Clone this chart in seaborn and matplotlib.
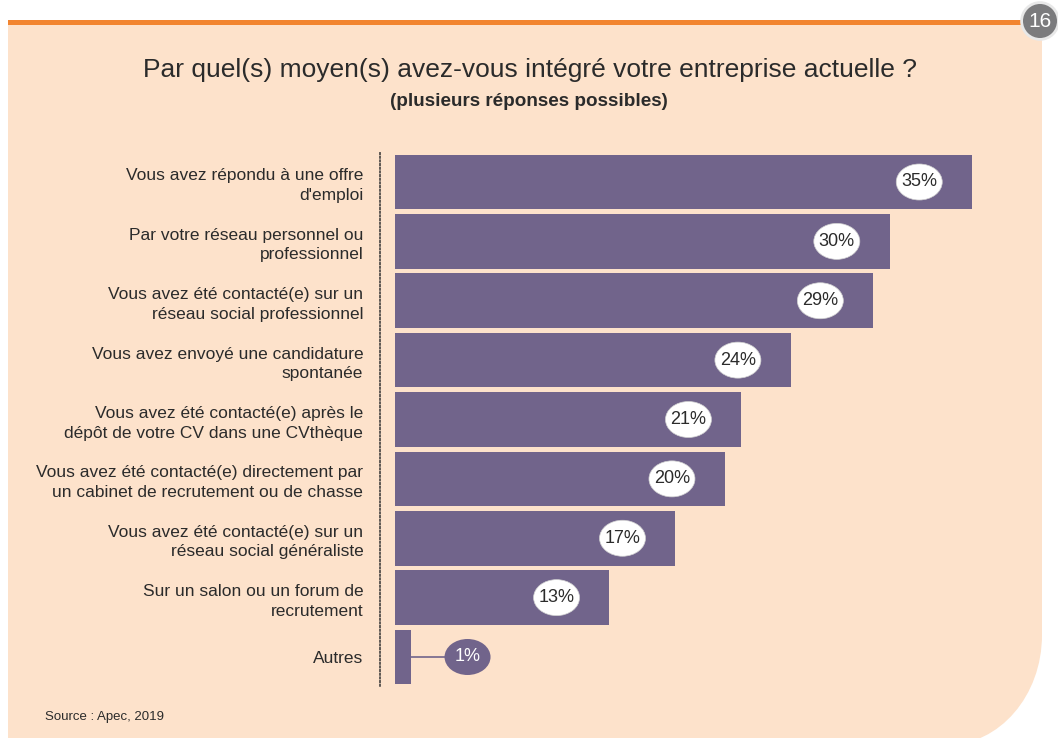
import numpy as np
import pandas as pd
import matplotlib
matplotlib.use("Agg")
import matplotlib.pyplot as plt
import seaborn as sns
from matplotlib.patches import Ellipse, PathPatch, Circle
from matplotlib.path import Path

# data
labels = [
    "Vous avez répondu à une offre\nd'emploi",
    "Par votre réseau personnel ou\nprofessionnel",
    "Vous avez été contacté(e) sur un\nréseau social professionnel",
    "Vous avez envoyé une candidature\nspontanée",
    "Vous avez été contacté(e) après le\ndépôt de votre CV dans une CVthèque",
    "Vous avez été contacté(e) directement par\nun cabinet de recrutement ou de chasse",
    "Vous avez été contacté(e) sur un\nréseau social généraliste",
    "Sur un salon ou un forum de\nrecrutement",
    "Autres",
]
values = [35, 30, 29, 24, 21, 20, 17, 13, 1]
value_text = ["35%", "30%", "29%", "24%", "21%", "20%", "17%", "13%", "1%"]

title = "Par quel(s) moyen(s) avez-vous intégré votre entreprise actuelle ?"
subtitle = "(plusieurs réponses possibles)"
source = "Source : Apec, 2019"
page = "16"

purple = "#71648b"
peach = "#fde2cb"
orange = "#f28530"
text_col = "#2b2b2b"

sns.set_theme(style="white")
font = ["Liberation Sans", "DejaVu Sans"]
plt.rcParams["font.family"] = font

W, H = 1058, 738
fig = plt.figure(figsize=(W / 100, H / 100), dpi=100)
fig.patch.set_facecolor("white")

def fx(x):
    return x / W

def fy(y):
    return 1 - y / H

# peach panel with rounded bottom-right corner
L, T, R, B = 8, 20, 1042, 745
rx, ry = 95, 110
k = 0.5523
verts = [
    (fx(L), fy(T)), (fx(R), fy(T)), (fx(R), fy(B - ry)),
    (fx(R), fy(B - ry + k * ry)), (fx(R - rx + k * rx), fy(B)), (fx(R - rx), fy(B)),
    (fx(L), fy(B)), (fx(L), fy(T)),
]
codes = [Path.MOVETO, Path.LINETO, Path.LINETO,
         Path.CURVE4, Path.CURVE4, Path.CURVE4,
         Path.LINETO, Path.CLOSEPOLY]
fig.patches.append(PathPatch(Path(verts, codes), transform=fig.transFigure,
                             facecolor=peach, edgecolor="none", zorder=-10))
# orange top rule
fig.patches.append(plt.Rectangle((fx(L), fy(25)), fx(1030) - fx(L), fy(20) - fy(25),
                                 transform=fig.transFigure, facecolor=orange,
                                 edgecolor="none", zorder=-9))
# page number bubble
circ_ax = fig.add_axes([fx(1020), fy(41), 40 / W, 40 / H])
circ_ax.set_xlim(-1, 1)
circ_ax.set_ylim(-1, 1)
circ_ax.set_aspect("equal")
circ_ax.axis("off")
circ_ax.add_patch(Circle((0, 0), 0.92, facecolor="#7b7b7d", edgecolor="#e8e8e8", linewidth=2))
circ_ax.text(0, -0.02, page, ha="center", va="center", color="white", fontsize=15,
             family=font)

# main axes
ax = fig.add_axes([fx(380), fy(686), fx(1000) - fx(380), fy(152) - fy(686)])
ax.set_facecolor("none")
df = pd.DataFrame({"label": labels, "value": values})
sns.barplot(data=df, x="value", y="label", orient="h", color=purple,
            saturation=1, width=0.92, linewidth=0, ax=ax)

px_per_unit = (972 - 395) / 35
ax.set_xlim(-15 / px_per_unit, (1000 - 395) / px_per_unit)
pitch = (657 - 182) / 8
ax.set_ylim((686 - 182) / pitch, (152 - 182) / pitch)

for s in ["top", "right", "bottom"]:
    ax.spines[s].set_visible(False)
ax.spines["left"].set_linestyle((0, (1, 1.4)))
ax.spines["left"].set_color("#333333")
ax.spines["left"].set_linewidth(1.1)
ax.set_xticks([])
ax.set_xlabel("")
ax.set_ylabel("")
ax.tick_params(axis="y", length=0, pad=12)
for t in ax.get_yticklabels():
    t.set_fontsize(12.5)
    t.set_color(text_col)
    t.set_linespacing(1.38)
    t.set_family(font)

ew, eh = 46 / px_per_unit, 36 / pitch
offset = 3.2
for i, (v, s) in enumerate(zip(values, value_text)):
    if v >= 5:
        cx = v - offset
        ax.add_patch(Ellipse((cx, i), ew, eh, facecolor="white", edgecolor="#d0d0d0",
                             linewidth=0.5, zorder=3))
        ax.text(cx, i, s, ha="center", va="center", fontsize=13, color=text_col,
                zorder=4, family=font)
    else:
        cx = v + offset + 0.2
        ax.plot([v, cx - ew / 2], [i, i], color=purple, linewidth=1.2, zorder=2)
        ax.add_patch(Ellipse((cx, i), ew, eh, facecolor=purple, edgecolor="none", zorder=3))
        ax.text(cx, i, s, ha="center", va="center", fontsize=13, color="white",
                zorder=4, family=font)

fig.text(fx(530), fy(70), title, ha="center", va="center", fontsize=19, color=text_col,
         family=font)
fig.text(fx(529), fy(101), subtitle, ha="center", va="center", fontsize=13.6,
         fontweight="bold", color=text_col, family=font)
fig.text(fx(45), fy(717), source, ha="left", va="center", fontsize=9.5, color=text_col,
         family=font)

fig.savefig("out.png", dpi=100, facecolor=fig.get_facecolor())
